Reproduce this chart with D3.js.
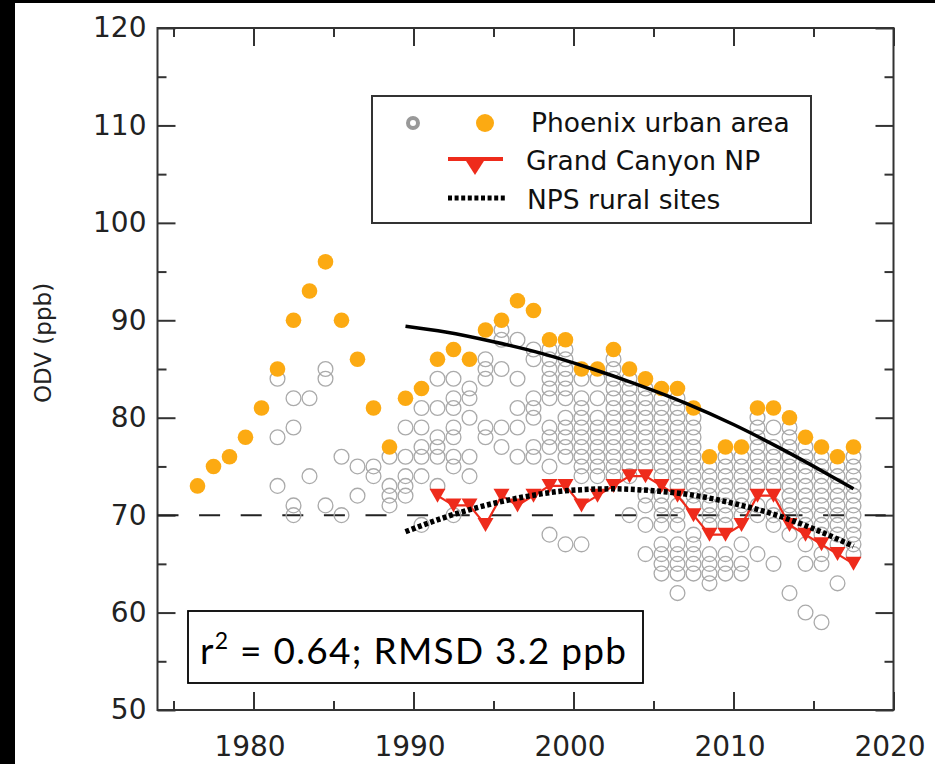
<!DOCTYPE html>
<html>
<head>
<meta charset="utf-8">
<script src="https://cdn.jsdelivr.net/npm/d3@7"></script>
<style>
  html, body { margin: 0; padding: 0; background: #000; }
  svg { display: block; }
</style>
</head>
<body>
<div id="chart"></div>
<script>
// Phoenix urban area: highest site ODV per year (orange)
const phxYears = [1976, 1977, 1978, 1979, 1980, 1981, 1982, 1983, 1984, 1985, 1986, 1987, 1988, 1989,
  1990, 1991, 1992, 1993, 1994, 1995, 1996, 1997, 1998, 1999, 2000, 2001, 2002, 2003,
  2004, 2005, 2006, 2007, 2008, 2009, 2010, 2011, 2012, 2013, 2014, 2015, 2016, 2017];
const phxMax = [73, 75, 76, 78, 81, 85, 90, 93, 96, 90, 86, 81, 77, 82,
  83, 86, 87, 86, 89, 90, 92, 91, 88, 88, 85, 85, 87, 85,
  84, 83, 83, 81, 76, 77, 77, 81, 81, 80, 78, 77, 76, 77];

// other Phoenix sites (grey open circles)
const siteYears = [1981, 1982, 1983, 1984, 1985, 1986, 1987, 1988, 1989, 1990, 1991, 1992, 1993, 1994,
  1995, 1996, 1997, 1998, 1999, 2000, 2001, 2002, 2003, 2004, 2005, 2006, 2007, 2008,
  2009, 2010, 2011, 2012, 2013, 2014, 2015, 2016, 2017];
const siteValues = [
  [84, 78, 73],
  [82, 79, 71, 70],
  [82, 74],
  [85, 84, 71],
  [76, 70],
  [75, 72],
  [75, 74],
  [76, 73, 72, 71],
  [79, 76, 74, 73, 72],
  [81, 79, 77, 76, 74, 69],
  [84, 81, 78, 77, 76, 73],
  [84, 82, 81, 79, 78, 76, 75, 70],
  [83, 82, 80, 76, 74],
  [86, 85, 84, 79, 78],
  [89, 88, 85, 79, 77],
  [88, 84, 81, 79, 76],
  [87, 86, 82, 81, 80, 77, 76],
  [87, 86, 85, 84, 83, 82, 79, 78, 77, 75, 68],
  [87, 86, 85, 84, 83, 82, 80, 79, 78, 77, 76, 67],
  [84, 82, 81, 80, 79, 78, 77, 76, 75, 74, 67],
  [84, 82, 80, 79, 78, 77, 76, 75, 74],
  [86, 85, 84, 83, 82, 81, 80, 79, 78, 77, 76, 75, 74],
  [84, 83, 82, 81, 80, 79, 78, 77, 76, 75, 74, 70],
  [83, 82, 81, 80, 79, 78, 77, 76, 75, 72, 71, 69, 66],
  [82, 81, 80, 79, 78, 77, 76, 75, 74, 72, 71, 70, 69, 67, 66, 65, 64],
  [82, 81, 80, 79, 78, 77, 76, 75, 74, 73, 71, 70, 69, 67, 66, 65, 64, 62],
  [80, 79, 78, 77, 76, 75, 74, 73, 72, 71, 68, 67, 66, 65, 64],
  [75, 74, 73, 72, 71, 70, 69, 66, 65, 64, 63],
  [76, 75, 74, 73, 72, 71, 70, 69, 66, 65, 64],
  [76, 75, 74, 73, 72, 71, 70, 67, 65, 64],
  [80, 79, 78, 77, 76, 75, 74, 73, 71, 70, 66],
  [79, 77, 76, 75, 74, 73, 71, 70, 69, 65],
  [79, 78, 77, 76, 75, 74, 73, 72, 71, 70, 68, 62],
  [77, 76, 75, 74, 73, 72, 71, 70, 69, 67, 65, 60],
  [76, 75, 74, 73, 72, 71, 70, 69, 68, 66, 65, 59],
  [75, 74, 73, 72, 71, 70, 69, 68, 67, 63],
  [76, 75, 74, 73, 72, 71, 70, 69, 68, 67, 66]
];

// Grand Canyon NP
const gcYears = [1991, 1992, 1993, 1994, 1995, 1996, 1997, 1998, 1999, 2000, 2001, 2002, 2003, 2004,
  2005, 2006, 2007, 2008, 2009, 2010, 2011, 2012, 2013, 2014, 2015, 2016, 2017];
const gcValues = [72, 71, 71, 69, 72, 71, 72, 73, 73, 71, 72, 73, 74, 74,
  73, 72, 70, 68, 68, 69, 72, 72, 69, 68, 67, 66, 65];

// trend curves
const urbanFitYears = [1989, 1991.5, 1994.5, 1997.5, 2000.5, 2003.5, 2006.5, 2009.5, 2012.5, 2015.5, 2017];
const urbanFitValues = [89.4, 88.8, 87.8, 86.6, 85.1, 83.4, 81.5, 79.3, 76.8, 74.1, 72.7];
const ruralFitYears = [1989, 1991.5, 1994, 1996.5, 1999, 2002, 2004.5, 2007, 2009.5, 2012, 2014.5, 2017];
const ruralFitValues = [68.3, 69.8, 71.0, 71.9, 72.5, 72.7, 72.5, 72.05, 71.2, 70.1, 68.6, 66.8];

const standard = 70;
const xMajor = [1980, 1990, 2000, 2010, 2020];
const xMinor = [1975, 1985, 1995, 2005, 2015];
const yMajor = [50, 60, 70, 80, 90, 100, 110, 120];
const yMinor = [55, 65, 75, 85, 95, 105, 115];

const W = 935, H = 764;
const plotL = 157.5, plotR = 893.5, plotT = 28, plotB = 710;

const x = d3.scaleLinear().domain([1974, 2020]).range([plotL, plotR]);
const y = d3.scaleLinear().domain([50, 120]).range([plotB, plotT]);
const xc = yr => x(yr + 0.5); // values plotted at mid-year

const svg = d3.select('#chart').append('svg')
  .attr('width', W).attr('height', H);

// black edges of the original picture
svg.append('rect').attr('x', 15).attr('y', 3).attr('width', W - 15).attr('height', H - 3).attr('fill', '#fff');

const tickFont = 'DejaVu Sans, sans-serif';

function axisGroup(axis, tx, ty) {
  const g = svg.append('g').attr('transform', `translate(${tx},${ty})`).call(axis);
  g.select('.domain').remove();
  g.selectAll('line').attr('stroke', '#333').attr('stroke-width', 2);
  g.selectAll('text').attr('font-family', tickFont).attr('font-size', 28).attr('fill', '#222');
  return g;
}

// left / right
axisGroup(d3.axisLeft(y).tickValues(yMajor).tickSize(-18).tickPadding(11).tickFormat(d3.format('d')), plotL, 0);
axisGroup(d3.axisLeft(y).tickValues(yMinor).tickSize(-9).tickFormat(''), plotL, 0);
axisGroup(d3.axisRight(y).tickValues(yMajor).tickSize(-18).tickFormat(''), plotR, 0);
axisGroup(d3.axisRight(y).tickValues(yMinor).tickSize(-9).tickFormat(''), plotR, 0);
// bottom / top
axisGroup(d3.axisBottom(x).tickValues(xMajor).tickSize(-18).tickPadding(26).tickFormat(d3.format('d')), 0, plotB)
  .selectAll('text').attr('dx', -4);
axisGroup(d3.axisBottom(x).tickValues(xMinor).tickSize(-9).tickFormat(''), 0, plotB);
axisGroup(d3.axisTop(x).tickValues(xMajor).tickSize(-18).tickFormat(''), 0, plotT);
axisGroup(d3.axisTop(x).tickValues(xMinor).tickSize(-9).tickFormat(''), 0, plotT);

svg.append('rect')
  .attr('x', plotL).attr('y', plotT)
  .attr('width', plotR - plotL).attr('height', plotB - plotT)
  .attr('fill', 'none').attr('stroke', '#333').attr('stroke-width', 2);

svg.append('text')
  .attr('transform', `translate(51,343) rotate(-90)`)
  .attr('text-anchor', 'middle')
  .attr('font-family', tickFont).attr('font-size', 23).attr('fill', '#222')
  .text('ODV (ppb)');

// 70 ppb standard
svg.append('line')
  .attr('x1', plotL).attr('x2', plotR)
  .attr('y1', y(standard)).attr('y2', y(standard))
  .attr('stroke', '#222').attr('stroke-width', 2)
  .attr('stroke-dasharray', '21,20.6');

// grey site circles
const sites = [];
siteYears.forEach((yr, i) => siteValues[i].forEach(v => sites.push({ yr, v })));
svg.append('g').selectAll('circle').data(sites).enter().append('circle')
  .attr('cx', d => xc(d.yr)).attr('cy', d => y(d.v)).attr('r', 7.4)
  .attr('fill', 'none').attr('stroke', '#aaa').attr('stroke-width', 1.3);

// orange max
svg.append('g').selectAll('circle').data(phxYears).enter().append('circle')
  .attr('cx', d => xc(d)).attr('cy', (d, i) => y(phxMax[i])).attr('r', 7.8)
  .attr('fill', '#fcaa12');

// Grand Canyon
const gc = gcYears.map((yr, i) => ({ yr, v: gcValues[i] }));
svg.append('path').datum(gc)
  .attr('d', d3.line().x(d => xc(d.yr)).y(d => y(d.v)))
  .attr('fill', 'none').attr('stroke', '#ee2b1b').attr('stroke-width', 2.2);
const tri = (w, h) => `M${-w / 2},${-h / 2}L${w / 2},${-h / 2}L0,${h / 2}Z`;
svg.append('g').selectAll('path').data(gc).enter().append('path')
  .attr('transform', d => `translate(${xc(d.yr)},${y(d.v)})`)
  .attr('d', tri(16, 14)).attr('fill', '#ee2b1b');

// fits
const urbanFit = urbanFitYears.map((yr, i) => ({ yr, v: urbanFitValues[i] }));
const ruralFit = ruralFitYears.map((yr, i) => ({ yr, v: ruralFitValues[i] }));
const fitLine = d3.line().x(d => xc(d.yr)).y(d => y(d.v)).curve(d3.curveMonotoneX);
svg.append('path').datum(urbanFit).attr('d', fitLine)
  .attr('fill', 'none').attr('stroke', '#000').attr('stroke-width', 3.5);
svg.append('path').datum(ruralFit).attr('d', fitLine)
  .attr('fill', 'none').attr('stroke', '#000').attr('stroke-width', 5.5)
  .attr('stroke-dasharray', '4,2.6');

// legend
const lg = svg.append('g');
lg.append('rect').attr('x', 372).attr('y', 96).attr('width', 439).attr('height', 127)
  .attr('fill', '#fff').attr('stroke', '#333').attr('stroke-width', 2);
lg.append('circle').attr('cx', 413).attr('cy', 123).attr('r', 5)
  .attr('fill', 'none').attr('stroke', '#999').attr('stroke-width', 4);
lg.append('circle').attr('cx', 485).attr('cy', 123).attr('r', 9).attr('fill', '#fcaa12');
lg.append('line').attr('x1', 448).attr('x2', 503).attr('y1', 159).attr('y2', 159)
  .attr('stroke', '#ee2b1b').attr('stroke-width', 4);
lg.append('path').attr('transform', 'translate(475,166)').attr('d', tri(23, 18)).attr('fill', '#ee2b1b');
lg.append('line').attr('x1', 448).attr('x2', 505).attr('y1', 198).attr('y2', 198)
  .attr('stroke', '#000').attr('stroke-width', 5).attr('stroke-dasharray', '4,2.6');
const legendText = [['Phoenix urban area', 531, 132], ['Grand Canyon NP', 526, 170], ['NPS rural sites', 527, 209]];
lg.selectAll('text.lt').data(legendText).enter().append('text')
  .attr('x', d => d[1]).attr('y', d => d[2])
  .attr('font-family', tickFont).attr('font-size', 26.5).attr('fill', '#111')
  .text(d => d[0]);

// r2 box
svg.append('rect').attr('x', 188).attr('y', 611).attr('width', 455).attr('height', 72)
  .attr('fill', '#fff').attr('stroke', '#000').attr('stroke-width', 1.8);
const rt = svg.append('text').attr('x', 200).attr('y', 664)
  .attr('font-family', 'Lato, sans-serif').attr('font-size', 37).attr('fill', '#000')
  .attr('textLength', 426).attr('lengthAdjust', 'spacing');
rt.append('tspan').text('r');
rt.append('tspan').attr('font-size', 23).attr('dy', -15).text('2');
rt.append('tspan').attr('dy', 15).text(' = 0.64; RMSD 3.2 ppb');
</script>
</body>
</html>
